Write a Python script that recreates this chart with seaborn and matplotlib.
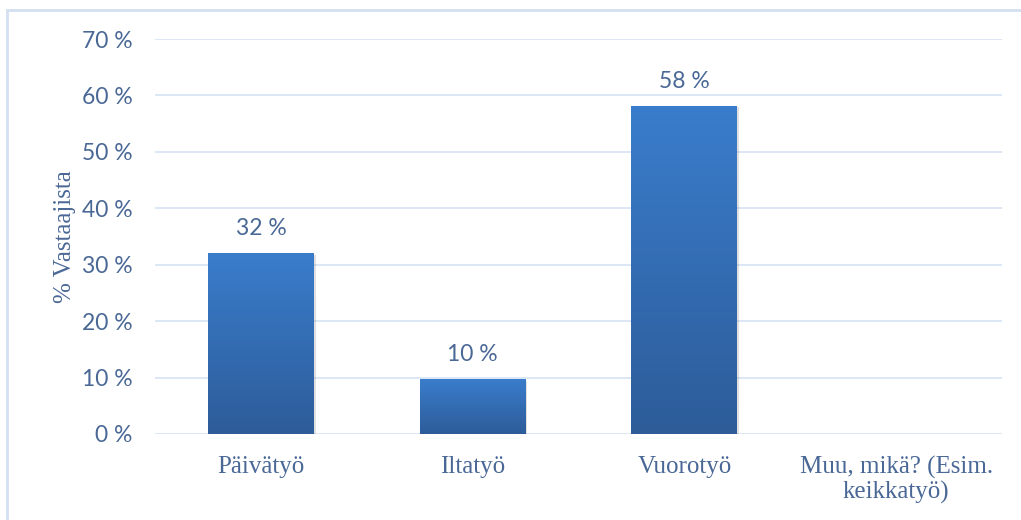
import numpy as np
import pandas as pd
import matplotlib
matplotlib.use("Agg")
import matplotlib.pyplot as plt
import seaborn as sns
from matplotlib.colors import LinearSegmentedColormap
from matplotlib.patches import Rectangle

categories = ["Päivätyö", "Iltatyö", "Vuorotyö", "Muu, mikä? (Esim.\nkeikkatyö)"]
values = [32.1, 9.7, 58.2, 0.0]
labels = ["32 %", "10 %", "58 %", ""]
yticks = [0, 10, 20, 30, 40, 50, 60, 70]
ytick_labels = ["0 %", "10 %", "20 %", "30 %", "40 %", "50 %", "60 %", "70 %"]
ylabel = "% Vastaajista"

sns.set_theme(style="white")
plt.rcParams["font.family"] = ["Lato", "DejaVu Sans"]

text_color = "#4a6896"
grid_color = "#d9e5f4"
serif = ["Liberation Serif", "DejaVu Serif"]

fig = plt.figure(figsize=(10.21, 5.20), dpi=100)
ax = fig.add_axes([155 / 1021, 1 - 434 / 520, (1002 - 155) / 1021, (434 - 39) / 520])

df = pd.DataFrame({"cat": categories, "val": values})
sns.barplot(data=df, x="cat", y="val", ax=ax, width=0.5, color="#3470b8",
            saturation=1, edgecolor="none")

ax.set_ylim(0, 70)
ax.set_xlim(-0.5, len(categories) - 0.5)

# gradient fill clipped to each bar
cmap = LinearSegmentedColormap.from_list("g", ["#2d5c99", "#3a7dcc"])
grad = np.linspace(0, 1, 256).reshape(-1, 1)
for p in ax.patches:
    x0, y0 = p.get_x(), p.get_y()
    w, h = p.get_width(), p.get_height()
    if h <= 0:
        continue
    sh = Rectangle((x0 + 0.008, y0), w, h - 0.3, facecolor="#000000", alpha=0.12,
                   edgecolor="none", zorder=p.get_zorder() - 0.1)
    ax.add_patch(sh)
    im = ax.imshow(grad, extent=[x0, x0 + w, y0, y0 + h], origin="lower",
                   cmap=cmap, aspect="auto", zorder=p.get_zorder() + 0.1)
    im.set_clip_path(p)

ax.set_xlim(-0.5, len(categories) - 0.5)
ax.set_ylim(0, 70)

for i, (v, lab) in enumerate(zip(values, labels)):
    if lab:
        ax.annotate(lab, (i, v), xytext=(0, 10), textcoords="offset points",
                    ha="center", va="bottom", fontsize=16.5, color=text_color,
                    family=["Lato", "DejaVu Sans"])

ax.set_yticks(yticks)
ax.set_yticklabels(ytick_labels, fontsize=16.5, color=text_color)
ax.tick_params(axis="y", length=0, pad=16)
ax.tick_params(axis="x", length=0, pad=16)
ax.set_xticks(range(len(categories)))
ax.set_xticklabels(categories, fontsize=18, color=text_color,
                   family=serif, linespacing=1.1)
for t in ax.get_xticklabels():
    t.set_va("top")

ax.set_xlabel("")
ax.set_ylabel(ylabel, fontsize=18, color=text_color, family=serif, labelpad=4)

ax.yaxis.grid(True, color=grid_color, linewidth=1.3)
ax.xaxis.grid(False)
ax.set_axisbelow(True)
for s in ax.spines.values():
    s.set_visible(False)

fig.patches.append(Rectangle((7 / 1021, -0.05), 1.1, 1 - 10 / 520 + 0.05,
                             transform=fig.transFigure, fill=False,
                             edgecolor="#d3e0f1", linewidth=2))

fig.savefig("out.png", dpi=100)
